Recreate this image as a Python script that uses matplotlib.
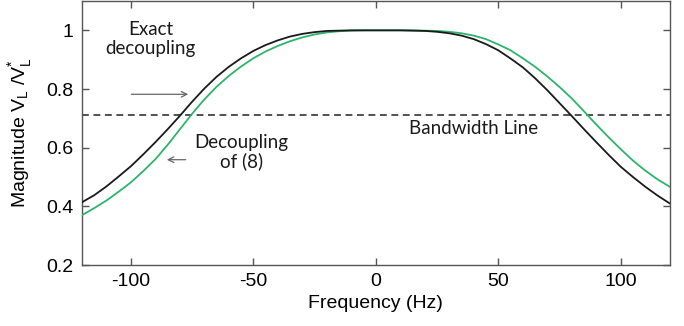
import matplotlib
matplotlib.use("Agg")
import matplotlib.pyplot as plt

# ---- data ----
freq = [-120, -115, -110, -105, -100, -95, -90, -85, -80, -75, -70, -65, -60,
        -55, -50, -45, -40, -35, -30, -25, -20, -15, -10, -5, 0,
        5, 10, 15, 20, 25, 30, 35, 40, 45, 50, 55, 60, 65, 70, 75, 80,
        85, 90, 95, 100, 105, 110, 115, 120]

exact_decoupling = [0.414, 0.438, 0.468, 0.502, 0.537, 0.577, 0.619, 0.663, 0.709,
                    0.757, 0.802, 0.842, 0.876, 0.905, 0.930, 0.950, 0.966, 0.979,
                    0.988, 0.994, 0.998, 0.999, 1.000, 1.000, 1.000,
                    1.000, 1.000, 0.999, 0.998, 0.995, 0.990, 0.982, 0.970, 0.953,
                    0.932, 0.904, 0.874, 0.837, 0.796, 0.752, 0.708, 0.663, 0.619,
                    0.576, 0.535, 0.500, 0.467, 0.437, 0.410]

decoupling_8 = [0.370, 0.394, 0.420, 0.450, 0.482, 0.520, 0.561, 0.610, 0.663,
                0.716, 0.765, 0.808, 0.845, 0.877, 0.905, 0.928, 0.947, 0.963,
                0.976, 0.986, 0.993, 0.997, 0.999, 1.000, 1.000,
                1.000, 1.000, 1.000, 0.999, 0.998, 0.995, 0.990, 0.982, 0.970,
                0.952, 0.932, 0.905, 0.876, 0.843, 0.807, 0.768, 0.724, 0.679,
                0.636, 0.595, 0.556, 0.522, 0.492, 0.467]

bandwidth_level = 0.71

x_ticks = [-100, -50, 0, 50, 100]
y_ticks = [0.2, 0.4, 0.6, 0.8, 1.0]
y_tick_labels = ["0.2", "0.4", "0.6", "0.8", "1"]

# ---- figure ----
plt.rcParams['font.family'] = ['Liberation Sans', 'DejaVu Sans']
fig = plt.figure(figsize=(6.84, 3.26), dpi=100)
ax = fig.add_axes([0.1199, 0.1871, 0.8592, 0.8098])

ax.plot(freq, decoupling_8, color='#2db46c', lw=1.3, zorder=3)
ax.plot(freq, exact_decoupling, color='#1a1a1a', lw=1.3, zorder=4)
ax.axhline(bandwidth_level, color='#222222', lw=1.1, ls=(0, (4.5, 3)), zorder=2)

ax.set_xlim(-120, 120)
ax.set_ylim(0.2, 1.1)
ax.set_xticks(x_ticks)
ax.set_xticklabels([str(t) for t in x_ticks])
ax.set_yticks(y_ticks)
ax.set_yticklabels(y_tick_labels)
ax.tick_params(direction='in', length=5, width=1, color='#555555',
               top=True, right=True, labelsize=14, pad=6)
for s in ax.spines.values():
    s.set_color('#555555')
    s.set_linewidth(1)

ax.set_xlabel('Frequency (Hz)', fontsize=14, labelpad=3)
ax.set_ylabel('Magnitude V$_\\mathregular{L}$ /V$^\\mathregular{*}_\\mathregular{L}$',
              fontsize=14, labelpad=8)

afont = dict(family=['Lato', 'DejaVu Sans'], fontsize=13.5, color='#1a1a1a')
ax.text(-92, 0.972, 'Exact\ndecoupling', ha='center', va='center',
        linespacing=1.15, **afont)
ax.text(-55, 0.585, 'Decoupling\nof (8)', ha='center', va='center',
        linespacing=1.15, **afont)
ax.text(40, 0.665, 'Bandwidth Line', ha='center', va='center', **afont)

ax.annotate('', xy=(-75.5, 0.782), xytext=(-101, 0.782),
            arrowprops=dict(arrowstyle='->', color='#666666', lw=0.9,
                            mutation_scale=10))
ax.annotate('', xy=(-86.5, 0.559), xytext=(-76.5, 0.559),
            arrowprops=dict(arrowstyle='->', color='#666666', lw=0.9,
                            mutation_scale=10))

fig.savefig('out.png', dpi=100)
